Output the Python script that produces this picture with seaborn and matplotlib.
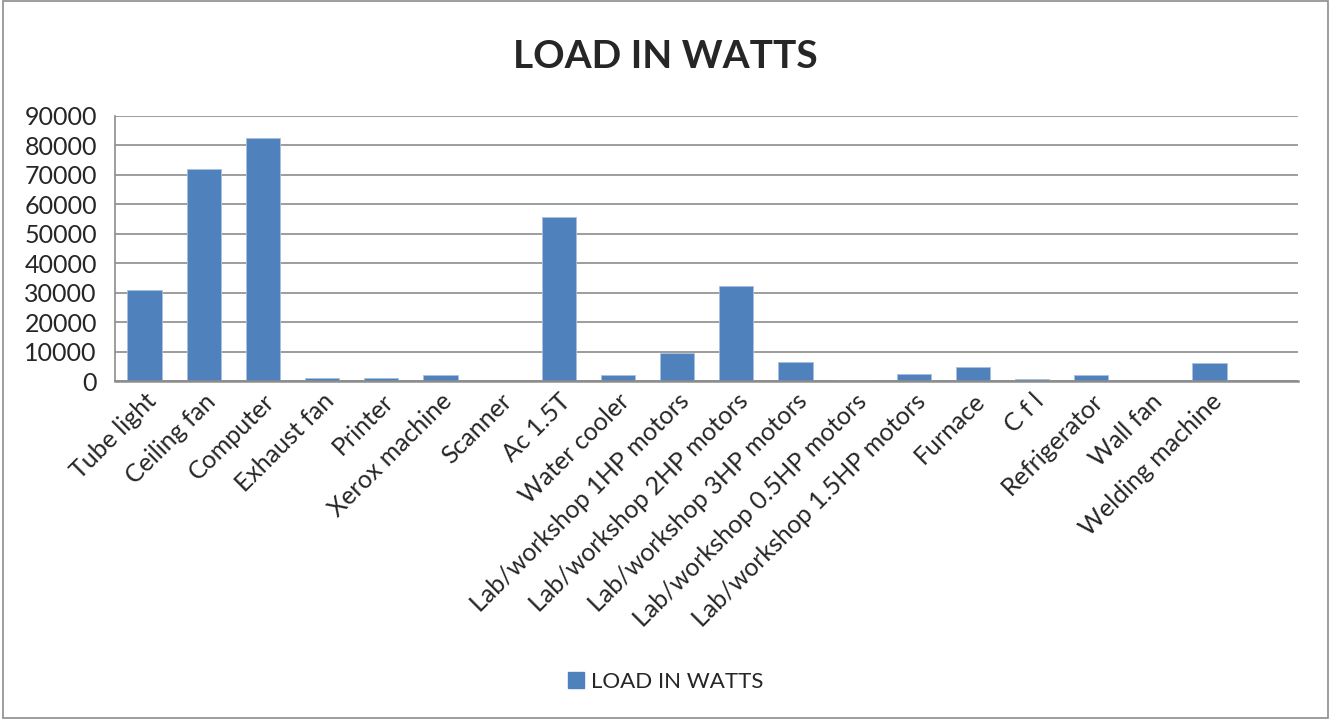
import pandas as pd
import matplotlib
matplotlib.use("Agg")
import matplotlib.pyplot as plt
import seaborn as sns
from matplotlib.patches import Rectangle

appliances = ["Tube light", "Ceiling fan", "Computer", "Exhaust fan", "Printer",
              "Xerox machine", "Scanner", "Ac 1.5T", "Water cooler",
              "Lab/workshop 1HP motors", "Lab/workshop 2HP motors",
              "Lab/workshop 3HP motors", "Lab/workshop 0.5HP motors",
              "Lab/workshop 1.5HP motors", "Furnace", "C f l", "Refrigerator",
              "Wall fan", "Welding machine"]
load_watts = [31000, 71800, 82600, 1200, 900, 2100, 0, 55800, 2000, 9500,
              32300, 6600, 500, 2300, 4900, 600, 2000, 0, 6000]

df = pd.DataFrame({"Appliance": appliances, "Load": load_watts})

sns.set_theme(style="white")
plt.rcParams['font.family'] = ['Lato', 'DejaVu Sans']

fig = plt.figure(figsize=(13.31, 7.19), dpi=100)
ax = fig.add_axes([0.0864, 0.47, 0.889, 0.369])

sns.barplot(data=df, x="Appliance", y="Load", color="#4F81BD", width=0.58,
            saturation=1, ax=ax, edgecolor="#A9C0DE", linewidth=0.6)

ax.set_xlim(-0.5, 19.5)
ax.set_ylim(0, 90000)
ax.set_yticks(range(0, 90001, 10000))
ax.set_yticklabels([str(v) for v in range(0, 90001, 10000)], fontsize=18)
ax.set_xticks(range(len(appliances)))
ax.set_xticklabels(appliances, rotation=45, ha="right", rotation_mode="anchor",
                   fontsize=18)
ax.set_xlabel("")
ax.set_ylabel("")
ax.grid(axis="y", color="#8C8C8C", linewidth=1.2)
ax.set_axisbelow(True)
for s in ["top", "right"]:
    ax.spines[s].set_visible(False)
ax.spines["left"].set_color("#8C8C8C")
ax.spines["bottom"].set_color("#8C8C8C")
ax.spines["left"].set_linewidth(1.2)
ax.spines["bottom"].set_linewidth(1.8)
ax.tick_params(axis="y", length=5, color="#8C8C8C", width=1.2, pad=8)
ax.tick_params(axis="x", length=0, pad=6)

fig.text(0.5, 0.922, "LOAD IN WATTS", ha="center", va="center",
         fontsize=28, fontweight="bold")

handle = Rectangle((0, 0), 1, 1, color="#4F81BD")
fig.legend([handle], ["LOAD IN WATTS"], loc="center", bbox_to_anchor=(0.5, 0.052),
           frameon=False, fontsize=16, handlelength=0.75, handleheight=0.75,
           handletextpad=0.3)

fig.patches.append(Rectangle((0.002, 0.002), 0.996, 0.996, transform=fig.transFigure,
                             fill=False, edgecolor="#8C8C8C", linewidth=1.2))

plt.savefig("out.png", dpi=100)
plt.close()
